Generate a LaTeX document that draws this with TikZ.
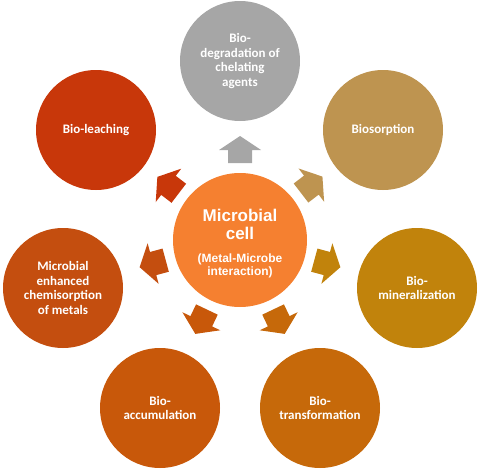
\documentclass[tikz,border=0pt]{standalone}
\usepackage{fontspec}
\newfontfamily\carl{Carlito}
\newfontfamily\arialf{Liberation Sans}
\usetikzlibrary{calc}
\definecolor{cgray}{RGB}{166,166,166}
\definecolor{cleach}{RGB}{200,55,10}
\definecolor{csorp}{RGB}{190,148,80}
\definecolor{cmin}{RGB}{193,131,12}
\definecolor{ctrans}{RGB}{198,105,10}
\definecolor{caccu}{RGB}{200,88,10}
\definecolor{cchem}{RGB}{196,78,15}
\definecolor{ccenter}{RGB}{245,128,48}
\newcommand{\smallcenter}{\fontsize{12}{13.5}\selectfont}
\begin{document}
\begin{tikzpicture}[x=1pt,y=1pt,
  outer/.style={circle, minimum size=120pt, inner sep=0pt, text=white, align=center,
    font=\carl\bfseries\fontsize{13}{14.5}\selectfont},
  hub/.style={circle, minimum size=134pt, inner sep=0pt, fill=ccenter},
  hubtext/.style={inner sep=0pt, text=white, align=center,
    font=\arialf\bfseries\fontsize{17}{18}\selectfont}]
\useasboundingbox (0,0) rectangle (480,-471);
\node[hub] (c) at (240,-240) {};
\node[hubtext] (ctext) at ($(c.center)+(0,-4)$) {Microbial\\cell\\[5pt]\smallcenter (Metal-Microbe\\[-5pt]\smallcenter interaction)};
\node[outer, fill=cgray] (deg) at (240,-61) {Bio-\\degradation of\\chelating\\agents};
\node[outer, fill=cleach] (leach) at (96,-130) {Bio-leaching};
\node[outer, fill=csorp] (sorp) at (383,-130) {Biosorption};
\node[outer, fill=cmin] (mine) at (417,-288) {Bio-\\mineralization};
\node[outer, fill=ctrans] (trans) at (320,-408) {Bio-\\transformation};
\node[outer, fill=caccu] (accu) at (160,-408) {Bio-\\accumulation};
\node[outer, fill=cchem] (chem) at (63,-288) {Microbial\\enhanced\\chemisorption\\of metals};
\foreach \nm/\col in {deg/cgray, leach/cleach, sorp/csorp, mine/cmin, trans/ctrans, accu/caccu, chem/cchem}{
  \pgfmathanglebetweenpoints{\pgfpointanchor{c}{center}}{\pgfpointanchor{\nm}{center}}
  \let\ang\pgfmathresult
  \fill[\col, shift={(c.center)}, rotate=\ang] (77,-12) -- (90,-12) -- (90,-21) -- (104,0) -- (90,21) -- (90,12) -- (77,12) -- cycle;
}
\end{tikzpicture}
\end{document}
